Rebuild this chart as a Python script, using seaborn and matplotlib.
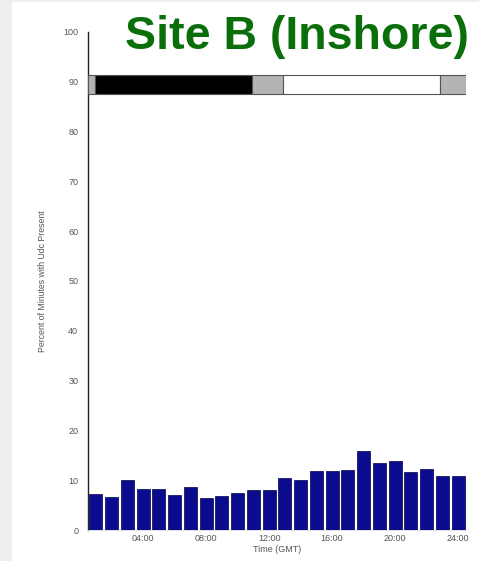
import matplotlib
matplotlib.use("Agg")
import matplotlib.pyplot as plt
import seaborn as sns
import pandas as pd
from matplotlib.patches import Rectangle

hours = list(range(1, 25))
percent = [7.3, 6.7, 10.0, 8.3, 8.2, 7.1, 8.6, 6.4, 6.9, 7.5, 8.0, 8.0,
           10.5, 10.1, 11.9, 11.9, 12.0, 15.9, 13.5, 13.8, 11.7, 12.3, 10.9, 10.9]
tick_hours = [4, 8, 12, 16, 20, 24]
tick_labels = ["04:00", "08:00", "12:00", "16:00", "20:00", "24:00"]
y_ticks = [0, 10, 20, 30, 40, 50, 60, 70, 80, 90, 100]
# light band: (start hour, end hour, colour)
band_starts = [0.5, 0.95, 10.9, 12.85, 22.85]
band_ends = [0.95, 10.9, 12.85, 22.85, 24.5]
band_colors = ["#b4b4b4", "#000000", "#b4b4b4", "#ffffff", "#b4b4b4"]

sns.set_style("white")
plt.rcParams['font.family'] = ['Liberation Sans', 'DejaVu Sans']

fig = plt.figure(figsize=(4.79, 5.61), dpi=100)
fig.patch.set_facecolor("#efefef")
fig.add_artist(Rectangle((12 / 479, 0), 1 - 12 / 479, 1 - 2 / 561,
                         transform=fig.transFigure, facecolor="white",
                         edgecolor="none", zorder=0))

ax = fig.add_axes([88 / 479, 1 - 530 / 561, (466 - 88) / 479, (530 - 32) / 561])
ax.set_facecolor("none")

df = pd.DataFrame({"hour": hours, "percent": percent})
sns.barplot(data=df, x="hour", y="percent", native_scale=True, width=0.84,
            color="#0b0b8e", saturation=1, edgecolor="#00004a", linewidth=0.5, ax=ax)

for s, e, c in zip(band_starts, band_ends, band_colors):
    ax.add_patch(Rectangle((s, 87.6), e - s, 3.7, facecolor=c,
                           edgecolor="#555555", linewidth=0.8, zorder=3))

ax.set_xlim(0.5, 24.5)
ax.set_ylim(0, 100)
ax.set_xticks(tick_hours)
ax.set_xticklabels(tick_labels)
ax.set_yticks(y_ticks)
ax.tick_params(axis="both", direction="in", length=4, width=0.6, colors="#888888",
               labelcolor="#555555", labelsize=6.5, pad=7)
ax.tick_params(axis="x", length=0, pad=3)

for side in ["top", "right"]:
    ax.spines[side].set_visible(False)
ax.spines["left"].set_color("#222222")
ax.spines["left"].set_linewidth(1.0)
ax.spines["bottom"].set_color("#dddddd")
ax.spines["bottom"].set_linewidth(0.6)

ax.set_xlabel("Time (GMT)", fontsize=6.5, color="#555555", labelpad=1)
ax.set_ylabel("Percent of Minutes with Udc Present", fontsize=6.3, color="#555555", labelpad=12)

fig.text(297 / 479, 1 - 37 / 561, "Site B (Inshore)", ha="center", va="center",
         fontsize=33.5, fontweight="bold", color="#0a6e0a")

fig.savefig("out.png", dpi=100, facecolor=fig.get_facecolor())
